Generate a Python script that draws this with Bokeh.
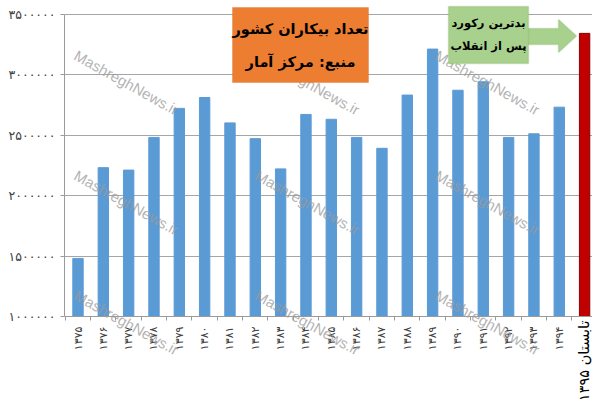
import numpy as np
from bokeh.plotting import figure
from bokeh.models import (Range1d, FixedTicker, Label, PolyAnnotation, BoxAnnotation,
                          ColumnDataSource, LinearAxis)
from bokeh.embed import file_html
from bokeh.resources import INLINE

# ---- data ----
categories = ["۱۳۷۵", "۱۳۷۶", "۱۳۷۷", "۱۳۷۸", "۱۳۷۹", "۱۳۸۰", "۱۳۸۱", "۱۳۸۲",
              "۱۳۸۳", "۱۳۸۴", "۱۳۸۵", "۱۳۸۶", "۱۳۸۷", "۱۳۸۸", "۱۳۸۹", "۱۳۹۰",
              "۱۳۹۱", "۱۳۹۲", "۱۳۹۳", "۱۳۹۴", "تابستان ۱۳۹۵"]
unemployed = [1480000, 2230000, 2210000, 2480000, 2720000, 2810000, 2600000, 2470000,
              2220000, 2670000, 2630000, 2480000, 2390000, 2830000, 3210000, 2870000,
              2940000, 2480000, 2510000, 2730000, 3340000]
y_ticks = [1000000, 1500000, 2000000, 2500000, 3000000, 3500000]
y_tick_labels = ["۱۰۰۰۰۰۰", "۱۵۰۰۰۰۰", "۲۰۰۰۰۰۰", "۲۵۰۰۰۰۰", "۳۰۰۰۰۰۰", "۳۵۰۰۰۰۰"]
title_lines = ["تعداد بیکاران کشور", "منبع: مرکز آمار"]
note_lines = ["بدترین رکورد", "پس از انقلاب"]
watermark = "MashreghNews.ir"

# ---- layout (pixel geometry) ----
W, H = 592, 402
FL = 64
C0, STEP = 77.5, 25.33          # first category centre, category spacing (px)
YB, YT = 316.0, 13.5            # pixel rows of first and last y tick
Y0 = y_ticks[0]
YSPAN = y_ticks[-1] - y_ticks[0]

def px_x(px):
    return (px - C0) / STEP

def px_y(py):
    return Y0 + (YB - py) / (YB - YT) * YSPAN

n = len(categories)
xs = list(range(n))
colors = ["#5B9BD5"] * (n - 1) + ["#C00000"]
lines = ["#5B9BD5"] * (n - 1) + ["#8B0000"]

p = figure(width=W, height=H,
           x_range=Range1d(px_x(FL), px_x(W)), y_range=Range1d(px_y(H), px_y(0)),
           output_backend="svg", toolbar_location=None, x_axis_location=None,
           min_border_left=FL, min_border_right=0, min_border_top=0,
           min_border_bottom=0)
p.outline_line_color = None
p.background_fill_color = "white"

src = ColumnDataSource(dict(x=xs, top=unemployed, color=colors, lc=lines))
p.vbar(x="x", top="top", bottom=Y0, width=0.41, fill_color="color", line_color="lc",
       line_width=1, source=src)

# x axis, drawn at the 1,000,000 line
xa = LinearAxis(fixed_location=Y0,
                ticker=FixedTicker(ticks=xs, minor_ticks=[i - 0.5 for i in range(n + 1)]))
ov = {i: categories[i] for i in range(n - 1)}
ov[n - 1] = " "
xa.major_label_overrides = ov
xa.major_label_orientation = np.pi / 2
xa.major_tick_line_color = None
xa.major_tick_out = 0
xa.major_tick_in = 0
xa.minor_tick_out = 4
xa.minor_tick_in = 0
xa.minor_tick_line_color = "#9a9a9a"
xa.axis_line_color = "#9a9a9a"
xa.major_label_standoff = 6
xa.major_label_text_font = "DejaVu Sans"
xa.major_label_text_font_size = "11px"
xa.major_label_text_color = "#404040"
p.add_layout(xa, "below")

# larger label for the last category
xa2 = LinearAxis(fixed_location=Y0,
                 ticker=FixedTicker(ticks=[n - 1], minor_ticks=[]),
                 major_label_overrides={n - 1: categories[-1]},
                 major_label_orientation=np.pi / 2,
                 axis_line_color=None, major_tick_line_color=None,
                 minor_tick_line_color=None, major_tick_out=0, major_tick_in=0,
                 major_label_standoff=4, major_label_text_font="DejaVu Sans",
                 major_label_text_font_size="14.5px", major_label_text_color="black")
p.add_layout(xa2, "below")

# y axis
ya = p.yaxis[0]
ya.ticker = FixedTicker(ticks=y_ticks, minor_ticks=[])
ya.major_label_overrides = {t: l for t, l in zip(y_ticks, y_tick_labels)}
ya.bounds = (y_ticks[0], y_ticks[-1])
ya.axis_line_color = "#9a9a9a"
ya.major_tick_line_color = "#9a9a9a"
ya.major_tick_out = 4
ya.major_tick_in = 0
ya.minor_tick_line_color = None
ya.major_label_standoff = 5
ya.major_label_text_font = "DejaVu Sans"
ya.major_label_text_font_size = "12.5px"
ya.major_label_text_color = "#404040"

p.xgrid.visible = False
p.ygrid.ticker = FixedTicker(ticks=y_ticks, minor_ticks=[])
p.ygrid.grid_line_color = "#a6a6a6"

# watermarks
for wx in (126, 307, 487):
    for wy in (82, 202, 322):
        p.add_layout(Label(x=px_x(wx), y=px_y(wy),
                           text=watermark, angle=-0.507,
                           text_align="center", text_baseline="middle",
                           text_font="Liberation Sans", text_font_size="15px",
                           text_color="#9a9a9a", text_alpha=0.75))

# arrow
ax = [527, 558, 558, 576, 558, 558, 527]
ay = [28, 28, 19, 35.5, 52, 44, 44]
p.add_layout(PolyAnnotation(xs=[px_x(v) for v in ax], ys=[px_y(v) for v in ay],
                            fill_color="#A9D18E", fill_alpha=1,
                            line_color="#86B262", line_width=1.5))

# title box
p.add_layout(BoxAnnotation(left=px_x(232), right=px_x(368), top=px_y(7), bottom=px_y(82),
                           fill_color="#ED7D31", fill_alpha=1,
                           line_color="#D0661C", line_width=1))
for txt, ty in zip(title_lines, (28, 61)):
    p.add_layout(Label(x=px_x(300), y=px_y(ty), text=txt,
                       text_align="center", text_baseline="middle",
                       text_font="DejaVu Sans", text_font_style="bold",
                       text_font_size="14.5px", text_color="black"))

# note box
p.add_layout(BoxAnnotation(left=px_x(448), right=px_x(528), top=px_y(6), bottom=px_y(63),
                           fill_color="#A9D18E", fill_alpha=1,
                           line_color="#86B262", line_width=1.5))
for txt, ty in zip(note_lines, (22, 45)):
    p.add_layout(Label(x=px_x(488), y=px_y(ty), text=txt,
                       text_align="center", text_baseline="middle",
                       text_font="DejaVu Sans", text_font_style="bold",
                       text_font_size="11.5px", text_color="black"))

open("out.html", "w").write(file_html(p, INLINE))
